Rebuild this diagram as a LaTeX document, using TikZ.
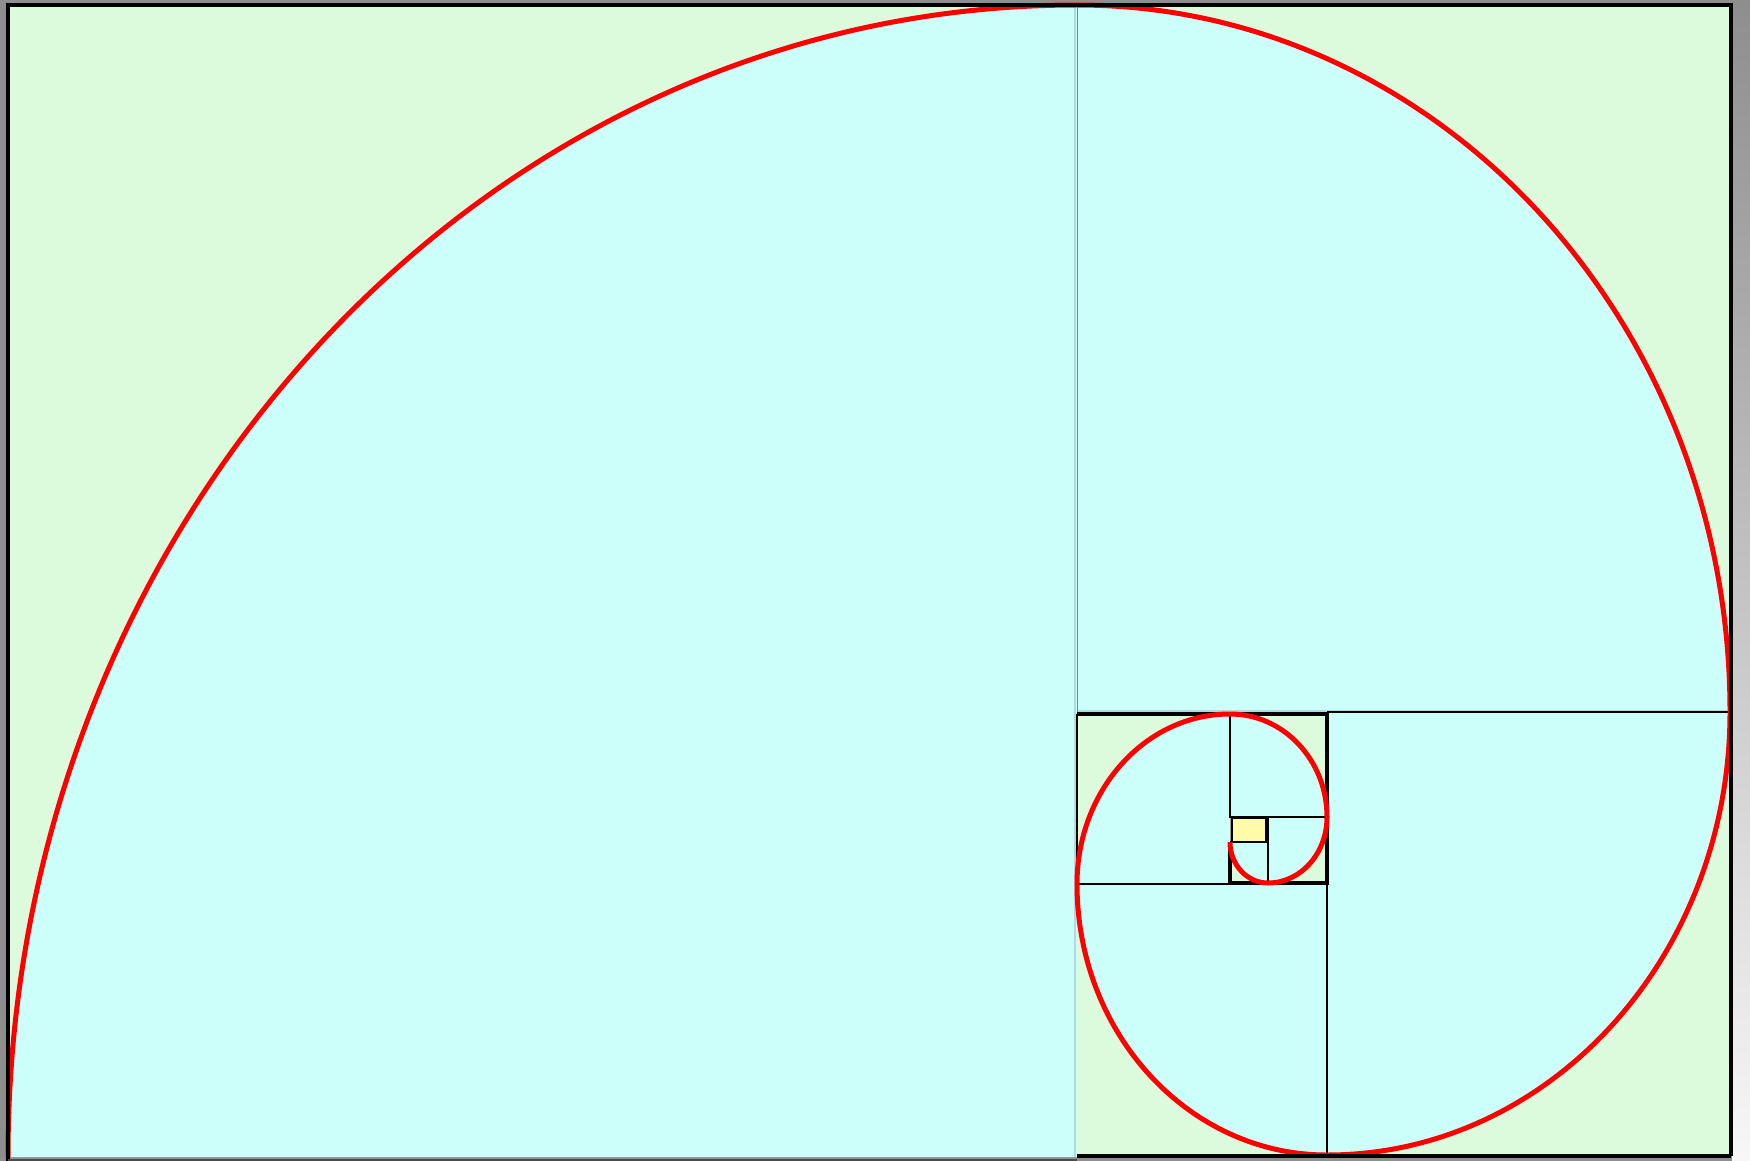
\documentclass[tikz,border=0pt]{standalone}
\begin{document}
\begin{tikzpicture}[x=0.5pt,y=-0.5pt,
  cornerfill/.style={fill=greenish},
  sectorfill/.style={fill=cyanish},
  thinline/.style={draw=black,line width=0.6pt},
  boldline/.style={draw=black,line width=1.6pt},
  spiral/.style={draw=red,line width=2.5pt},
  outer/.style={draw=black,line width=2pt}]
\definecolor{greenish}{HTML}{DCFADC}
\definecolor{cyanish}{HTML}{CCFFFA}
\definecolor{paleedge}{HTML}{AEDCDC}
\definecolor{yellowish}{HTML}{FFFBA8}
\definecolor{bggray}{HTML}{8E8E8E}
\useasboundingbox (0,0) rectangle (1750,1161);
% background
\fill[bggray] (0,0) rectangle (1750,1161);
\shade[top color=bggray,bottom color=white!97!black] (1732,0) rectangle (1750,1161);
% square 1 (big left)
\fill[cornerfill] (8,5) rectangle (1077,1157);
\fill[sectorfill] (1077,1157) -- (8,1157) arc[start angle=180,end angle=270,x radius=1069,y radius=1152] -- cycle;
% square 2 (top right)
\fill[cornerfill] (1077,5) rectangle (1730,712);
\fill[sectorfill] (1077,712) -- (1077,5) arc[start angle=270,end angle=360,x radius=653,y radius=707] -- cycle;
% square 3
\fill[cornerfill] (1327,712) rectangle (1730,1155);
\fill[sectorfill] (1327,712) -- (1730,712) arc[start angle=0,end angle=90,x radius=403,y radius=443] -- cycle;
% square 4
\fill[cornerfill] (1077,884) rectangle (1327,1155);
\fill[sectorfill] (1327,884) -- (1327,1155) arc[start angle=90,end angle=180,x radius=250,y radius=271] -- cycle;
% square 5
\fill[cornerfill] (1077,714) rectangle (1230,884);
\fill[sectorfill] (1230,884) -- (1077,884) arc[start angle=180,end angle=270,x radius=153,y radius=170] -- cycle;
% square 6
\fill[cornerfill] (1230,714) rectangle (1327,817);
\fill[sectorfill] (1230,817) -- (1230,714) arc[start angle=270,end angle=360,x radius=97,y radius=103] -- cycle;
% square 7
\fill[cornerfill] (1268,817) rectangle (1327,883);
\fill[sectorfill] (1268,817) -- (1327,817) arc[start angle=0,end angle=90,x radius=59,y radius=66] -- cycle;
% square 8
\fill[cornerfill] (1230,842) rectangle (1268,883);
\fill[sectorfill] (1268,842) -- (1268,883) arc[start angle=90,end angle=180,x radius=38,y radius=41] -- cycle;
% centre square
\fill[yellowish] (1232,818) rectangle (1266,842);
\draw[thinline] (1232,818) rectangle (1266,842);
% edges
\draw[draw=paleedge,line width=1pt] (1075,5) -- (1075,1157);
\draw[draw=paleedge,line width=0.8pt] (1077,711) -- (1730,711);
\draw[draw=gray,line width=0.5pt] (1077.5,5) -- (1077.5,714);
\draw[thinline] (1327,712) -- (1730,712);
\draw[thinline] (1327,712) -- (1327,1155);
\draw[thinline] (1077,714) -- (1077,884) -- (1230,884);
\draw[thinline] (1230,714) -- (1230,817) -- (1327,817);
\draw[thinline] (1268,817) -- (1268,883);
\draw[thinline] (1230,842) -- (1268,842);
\draw[boldline] (1077,714) -- (1327,714) -- (1327,883) -- (1230,883) -- (1230,842);
% spiral
\coordinate (p0) at (8,1157);
\draw[spiral] (p0)
  arc[start angle=180,end angle=270,x radius=1069,y radius=1152]
  arc[start angle=270,end angle=360,x radius=653,y radius=707]
  arc[start angle=0,end angle=90,x radius=403,y radius=443]
  arc[start angle=90,end angle=180,x radius=250,y radius=271]
  arc[start angle=180,end angle=270,x radius=153,y radius=170]
  arc[start angle=270,end angle=360,x radius=97,y radius=103]
  arc[start angle=0,end angle=90,x radius=59,y radius=66]
  arc[start angle=90,end angle=180,x radius=38,y radius=41];
% outer frame
\draw[outer] (1731,1156) -- (1731,5) -- (8,5) -- (8,1161);
\draw[outer] (1077,1156) -- (1731,1156);
\draw[draw=black!70,line width=0.6pt] (8,1160) -- (1077,1160);
\end{tikzpicture}
\end{document}
